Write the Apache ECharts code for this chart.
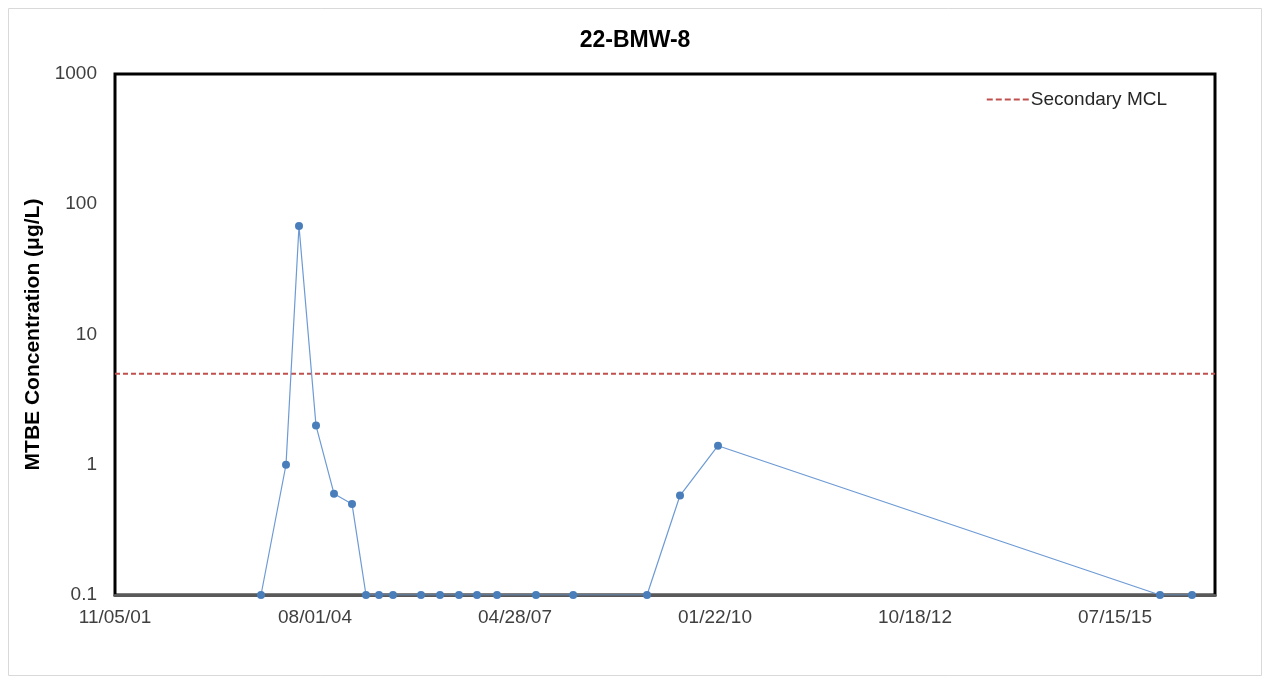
<!DOCTYPE html>
<html>
<head>
<meta charset="utf-8">
<title>22-BMW-8</title>
<script src="https://cdn.jsdelivr.net/npm/echarts@6/dist/echarts.min.js"></script>
<style>
  html, body { margin: 0; padding: 0; background: #fff; }
  #main { width: 1270px; height: 683px; }
</style>
</head>
<body>
<div id="main"></div>
<script>
// sample dates and MTBE results (ug/L); non-detects plotted at 0.1
var sampleDates = [
  '2003-11-05', '2004-03-09', '2004-05-13', '2004-08-06', '2004-11-04',
  '2005-02-02', '2005-04-13', '2005-06-17', '2005-08-26', '2006-01-13',
  '2006-04-18', '2006-07-22', '2006-10-20', '2007-01-28', '2007-08-11',
  '2008-02-13', '2009-02-16', '2009-07-31', '2010-02-06', '2016-02-25',
  '2016-08-03'
];
var mtbeValues = [
  0.1, 1, 68, 2, 0.6,
  0.5, 0.1, 0.1, 0.1, 0.1,
  0.1, 0.1, 0.1, 0.1, 0.1,
  0.1, 0.1, 0.58, 1.4, 0.1,
  0.1
];
var mclValue = 5;
var axisStart = '2001-11-05';
var axisSpanDays = 5500;
var yTicks = [0.1, 1, 10, 100, 1000];

var DAY = 86400000;
function toUTC(s) {
  var p = s.split('-');
  return Date.UTC(+p[0], +p[1] - 1, +p[2]);
}
var base = toUTC(axisStart);
function dayOffset(s) { return Math.round((toUTC(s) - base) / DAY); }
function pad(n) { return (n < 10 ? '0' : '') + n; }
function fmtDay(v) {
  var d = new Date(base + v * DAY);
  return pad(d.getUTCMonth() + 1) + '/' + pad(d.getUTCDate()) + '/' + pad(d.getUTCFullYear() % 100);
}

var seriesData = sampleDates.map(function (s, i) { return [dayOffset(s), mtbeValues[i]]; });

// five short dashes for the legend key
var dashIcon = 'path://M0,0h6v2h-6z M9,0h6v2h-6z M18,0h6v2h-6z M27,0h6v2h-6z M36,0h6v2h-6z';

var chart = echarts.init(document.getElementById('main'));
var option = {
  backgroundColor: '#fff',
  animation: false,
  title: {
    text: '22-BMW-8',
    left: 'center',
    top: 24,
    textStyle: { fontFamily: 'Liberation Sans', fontSize: 23, fontWeight: 'bold', color: '#000' }
  },
  legend: {
    data: [{ name: 'Secondary MCL', icon: dashIcon, itemStyle: { color: '#c0504d' } }],
    right: 98,
    top: 85,
    itemWidth: 42,
    itemHeight: 2,
    itemGap: 0,
    textStyle: { fontFamily: 'Liberation Sans', fontSize: 19, color: '#262626', padding: [0, 0, 0, -3] }
  },
  graphic: [{
    type: 'rect',
    shape: { x: 8.5, y: 8.5, width: 1253, height: 667 },
    style: { fill: 'none', stroke: '#d9d9d9', lineWidth: 1 },
    silent: true
  }],
  grid: {
    left: 115, right: 55, top: 74, bottom: 88,
    show: true, borderColor: '#000', borderWidth: 3
  },
  xAxis: {
    type: 'value',
    min: 0,
    max: axisSpanDays,
    interval: 1000,
    splitLine: { show: false },
    axisTick: { show: false },
    axisLine: { show: true, lineStyle: { color: '#595959', width: 3 } },
    axisLabel: {
      formatter: fmtDay,
      showMaxLabel: false,
      margin: 13,
      fontFamily: 'Liberation Sans', fontSize: 19, color: '#404040'
    }
  },
  yAxis: {
    type: 'log',
    logBase: 10,
    min: yTicks[0],
    max: yTicks[yTicks.length - 1],
    name: 'MTBE Concentration (\u03bcg/L)',
    nameLocation: 'middle',
    nameGap: 64,
    nameTextStyle: { fontFamily: 'Liberation Sans', fontSize: 21, fontWeight: 'bold', color: '#000' },
    splitLine: { show: false },
    axisTick: { show: false },
    axisLine: { show: false },
    axisLabel: {
      formatter: function (v) { return String(v); },
      margin: 18,
      fontFamily: 'Liberation Sans', fontSize: 19, color: '#404040'
    }
  },
  series: [{
    name: 'MTBE',
    type: 'line',
    data: seriesData,
    symbol: 'circle',
    symbolSize: 8,
    itemStyle: { color: '#4a7ebb' },
    lineStyle: { color: '#6d9ad4', width: 1.2 },
    z: 3
  }, {
    name: 'Secondary MCL',
    type: 'line',
    data: [[0, mclValue], [axisSpanDays, mclValue]],
    symbol: 'none',
    itemStyle: { color: '#c0504d' },
    lineStyle: { color: '#c0504d', width: 2, type: [5, 3] },
    z: 2
  }]
};
chart.setOption(option);
</script>
</body>
</html>
